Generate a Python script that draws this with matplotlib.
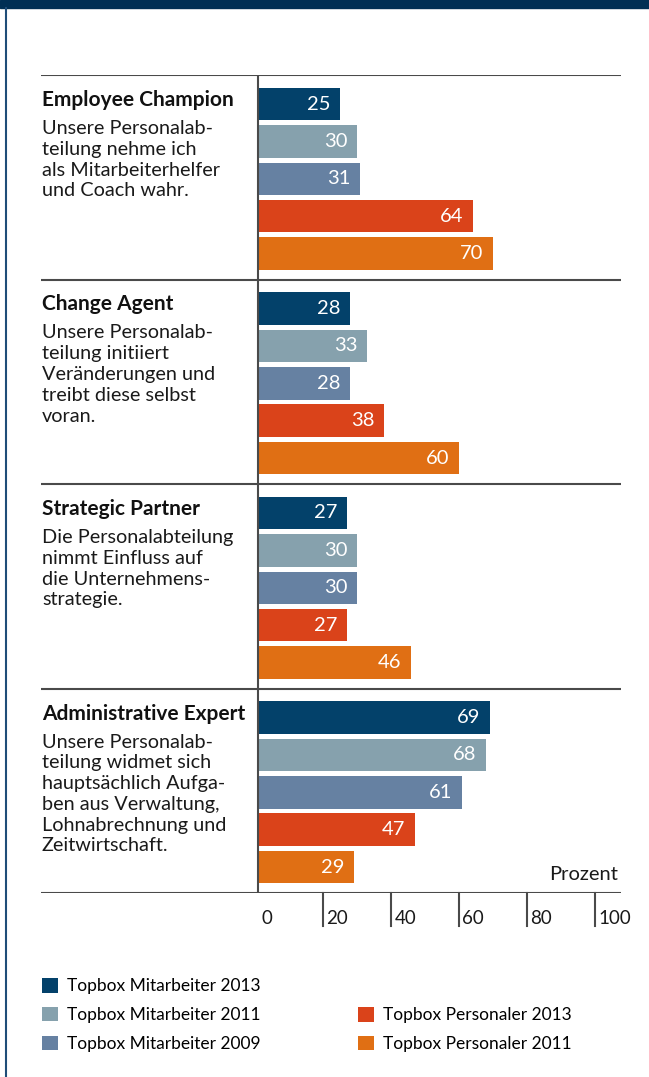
import numpy as np
import matplotlib
matplotlib.use('Agg')
import matplotlib.pyplot as plt
from matplotlib.patches import Rectangle
from matplotlib.lines import Line2D

plt.rcParams['font.family'] = ['Lato', 'DejaVu Sans']

# --- data ---
titles = ['Employee Champion', 'Change Agent', 'Strategic Partner', 'Administrative Expert']
descriptions = [
    'Unsere Personalab-\nteilung nehme ich\nals Mitarbeiterhelfer\nund Coach wahr.',
    'Unsere Personalab-\nteilung initiiert\nVeränderungen und\ntreibt diese selbst\nvoran.',
    'Die Personalabteilung\nnimmt Einfluss auf\ndie Unternehmens-\nstrategie.',
    'Unsere Personalab-\nteilung widmet sich\nhauptsächlich Aufga-\nben aus Verwaltung,\nLohnabrechnung und\nZeitwirtschaft.',
]
series = ['Topbox Mitarbeiter 2013', 'Topbox Mitarbeiter 2011', 'Topbox Mitarbeiter 2009',
          'Topbox Personaler 2013', 'Topbox Personaler 2011']
values = {
    'Topbox Mitarbeiter 2013': [25, 28, 27, 69],
    'Topbox Mitarbeiter 2011': [30, 33, 30, 68],
    'Topbox Mitarbeiter 2009': [31, 28, 30, 61],
    'Topbox Personaler 2013': [64, 38, 27, 47],
    'Topbox Personaler 2011': [70, 60, 46, 29],
}
ticks = [0, 20, 40, 60, 80, 100]
colors = ['#03416a', '#86a1ad', '#6681a2', '#da431a', '#e06f14']

# --- layout (pixels) ---
W, H = 649, 1077
fig = plt.figure(figsize=(W / 100, H / 100), dpi=100)
fig.patch.set_facecolor('white')

left_px, right_px, top_px, bot_px = 41, 621, 75, 893
zero_px, px_per_unit = 255, 3.4
group_px = (bot_px - top_px) / 4

ax = fig.add_axes([left_px / W, 1 - bot_px / H, (right_px - left_px) / W, (bot_px - top_px) / H])
ax.set_xlim((left_px - zero_px) / px_per_unit, (right_px - zero_px) / px_per_unit)
ax.set_ylim(4, 0)
ax.axis('off')

axis_x = 0.75
bar_h = 32.5 / group_px
offsets = (29 + 37.4 * np.arange(5)) / group_px

for i, (name, col) in enumerate(zip(series, colors)):
    vals = np.array(values[name])
    ys = np.arange(4) + offsets[i]
    ax.barh(ys, vals - axis_x, left=axis_x, height=bar_h, color=col, label=name, zorder=2)
    for y, v in zip(ys, vals):
        ax.annotate(str(v), (v, y), xytext=(-7, 0), textcoords='offset points',
                    ha='right', va='center', color='white', fontsize=14.5, zorder=3)

# separators and axis
line_col = '#4a4a4a'
for g in range(5):
    ax.axhline(g, color=line_col, lw=1.5, zorder=1)
ax.axvline(axis_x, color=line_col, lw=1.5, zorder=4)

# ticks below the axis
tick_len = 33 / group_px
for t in ticks:
    if t > 0:
        ax.plot([t, t], [4, 4 + tick_len], color=line_col, lw=1.5, clip_on=False)
    ax.annotate(str(t), (max(t, axis_x), 4 + 26 / group_px), xytext=(2.5, 0),
                textcoords='offset points', ha='left', va='center', fontsize=13.5,
                color='#1a1a1a', annotation_clip=False)

ax.text(ax.get_xlim()[1] - 0.8, 4 - 18 / group_px, 'Prozent', ha='right', va='center',
        fontsize=14.5, color='#1a1a1a')

# category texts
text_x = (42 - zero_px) / px_per_unit
for g, (t, d) in enumerate(zip(titles, descriptions)):
    ax.text(text_x, g + 25 / group_px, t, ha='left', va='center', fontsize=15,
            fontweight='bold', color='#111111')
    ax.text(text_x, g + 45 / group_px, d, ha='left', va='top', fontsize=14.3,
            color='#1a1a1a', linespacing=1.27)

# legend
handles, labels = ax.get_legend_handles_labels()
leg_kw = dict(frameon=False, fontsize=12.5, handlelength=0.92, handleheight=0.92,
              handletextpad=0.5, labelspacing=0.72, borderpad=0, borderaxespad=0,
              loc='upper left')
leg1 = fig.legend(handles[:3], labels[:3], bbox_to_anchor=(42 / W, 1 - 978 / H), **leg_kw)
leg2 = fig.legend(handles[3:], labels[3:], bbox_to_anchor=(358 / W, 1 - 1007 / H), **leg_kw)

# frame decoration
fig.patches.append(Rectangle((0, 1 - 8 / H), 1, 8 / H, transform=fig.transFigure,
                             color='#002f54', zorder=0))
fig.lines.append(Line2D([6 / W, 6 / W], [0, 1 - 8 / H], transform=fig.transFigure,
                        color='#1f4d78', lw=1.5))

fig.savefig('out.png', dpi=100)
